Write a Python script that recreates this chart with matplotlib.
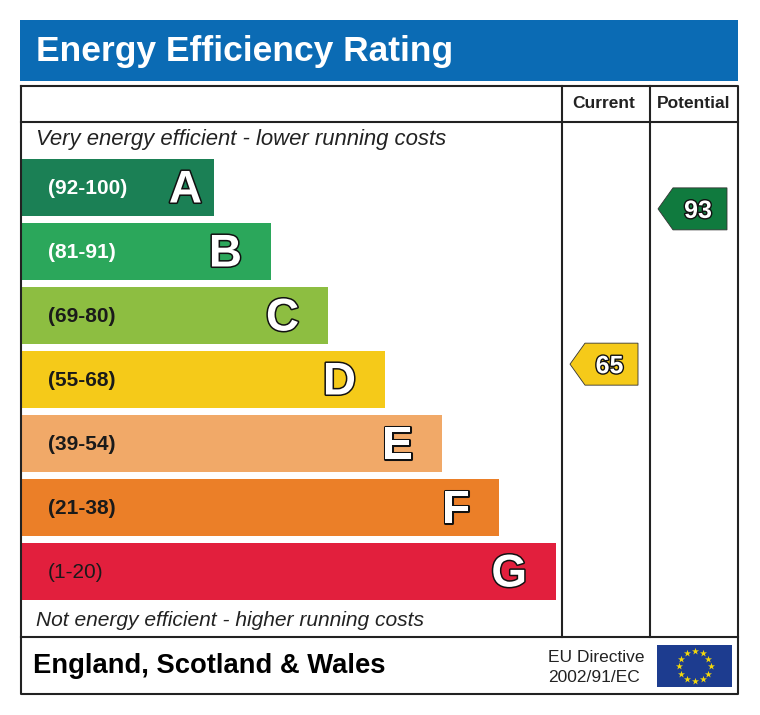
import matplotlib.pyplot as plt
import matplotlib.patheffects as pe
import numpy as np

plt.rcParams['font.family'] = ['Liberation Sans', 'DejaVu Sans']

# rating bands, best to worst
bands = ['A', 'B', 'C', 'D', 'E', 'F', 'G']
range_labels = ['(92-100)', '(81-91)', '(69-80)', '(55-68)', '(39-54)', '(21-38)', '(1-20)']
band_lo = [92, 81, 69, 55, 39, 21, 1]
band_hi = [100, 91, 80, 68, 54, 38, 20]
band_colors = ['#1b8055', '#2ba75b', '#8dbe41', '#f5ca19', '#f1a968', '#eb7f28', '#e21f3d']
arrow_colors = ['#107a3e', '#2ba75b', '#8dbe41', '#f5ca19', '#f1a968', '#eb7f28', '#e21f3d']
label_colors = ['white', 'white', '#1a1a1a', '#1a1a1a', '#1a1a1a', '#1a1a1a', '#1a1a1a']

current = 65
potential = 93

title = 'Energy Efficiency Rating'
top_note = 'Very energy efficient - lower running costs'
bottom_note = 'Not energy efficient - higher running costs'
region = 'England, Scotland & Wales'


def band_of(v):
    for i in range(len(bands)):
        if band_lo[i] <= v <= band_hi[i]:
            return i
    return len(bands) - 1


fig = plt.figure(figsize=(7.6, 7.15), dpi=100)
ax = fig.add_axes([0, 0, 1, 1])
ax.set_xlim(0, 760)
ax.set_ylim(715, 0)
ax.axis('off')

# title banner
ax.add_patch(plt.Rectangle((20, 20), 718, 61, color='#0b6bb4', lw=0))
ax.text(36, 51, title, color='white', fontsize=25.5, fontweight='bold', va='center', ha='left')

# frame
line_kw = dict(color='#222222', lw=1.5)
ax.plot([21, 738, 738, 21, 21], [86, 86, 694, 694, 86], **line_kw)
ax.plot([21, 738], [122, 122], **line_kw)
ax.plot([21, 738], [637, 637], **line_kw)
ax.plot([562, 562], [86, 637], **line_kw)
ax.plot([650, 650], [86, 637], **line_kw)

ax.text(604, 104, 'Current', fontsize=12.5, fontweight='bold', ha='center', va='center', color='#222222')
ax.text(694, 104, 'Potential', fontsize=12.5, fontweight='bold', ha='center', va='center', color='#222222')

ax.text(36, 140, top_note, fontsize=15.9, style='italic', ha='left', va='center', color='#222222')
ax.text(36, 620, bottom_note, fontsize=15.1, style='italic', ha='left', va='center', color='#222222')

# bars
bar_top0, bar_h, step = 159, 57, 64
tops = bar_top0 + step * np.arange(len(bands))
widths = 192 + 57 * np.arange(len(bands))
ax.barh(tops + bar_h / 2, widths, height=bar_h, left=22, color=band_colors, lw=0)

outline = [pe.withStroke(linewidth=2.2, foreground='#111111')]
for i, b in enumerate(bands):
    yc = tops[i] + bar_h / 2
    weight = 'normal' if b == 'G' else 'bold'
    ax.text(48, yc + 1, range_labels[i], fontsize=15, fontweight=weight, color=label_colors[i],
            ha='left', va='center')
    pad = 12 if b == 'A' else 29
    ax.text(22 + widths[i] - pad, yc + 3, b, fontsize=33, fontweight='bold', color='white',
            ha='right', va='center', path_effects=outline)


def rating_arrow(v, x_tip, x_right):
    i = band_of(v)
    frac = (v - band_lo[i]) / (band_hi[i] - band_lo[i])
    yc = tops[i] + bar_h * (1 - frac)
    h = 21
    xs = [x_tip, x_tip + 15, x_right, x_right, x_tip + 15]
    ys = [yc, yc - h, yc - h, yc + h, yc + h]
    ax.fill(xs, ys, color=arrow_colors[i], ec='#333333', lw=0.6)
    ax.text((x_tip + 15 + x_right) / 2 - 2, yc + 2, str(v), fontsize=18, fontweight='bold',
            color='white', ha='center', va='center',
            path_effects=[pe.withStroke(linewidth=2, foreground='#111111')])


rating_arrow(current, 570, 638)
rating_arrow(potential, 658, 727)

# footer
ax.text(33, 666, region, fontsize=19.7, fontweight='bold', ha='left', va='center', color='black')
ax.text(548, 657, 'EU Directive', fontsize=12.5, ha='left', va='center', color='#222222')
ax.text(548, 678, '2002/91/EC', fontsize=12.5, ha='left', va='center', color='#222222')

ax.add_patch(plt.Rectangle((657, 645), 75, 42, color='#1d3c8f', lw=0))
ang = np.linspace(0, 2 * np.pi, 12, endpoint=False)
ax.scatter(694.5 + 16 * np.cos(ang), 666 + 15 * np.sin(ang), marker='*', s=28,
           color='#f5d90a', lw=0, zorder=5)

plt.savefig('out.png', dpi=100)
plt.close()
